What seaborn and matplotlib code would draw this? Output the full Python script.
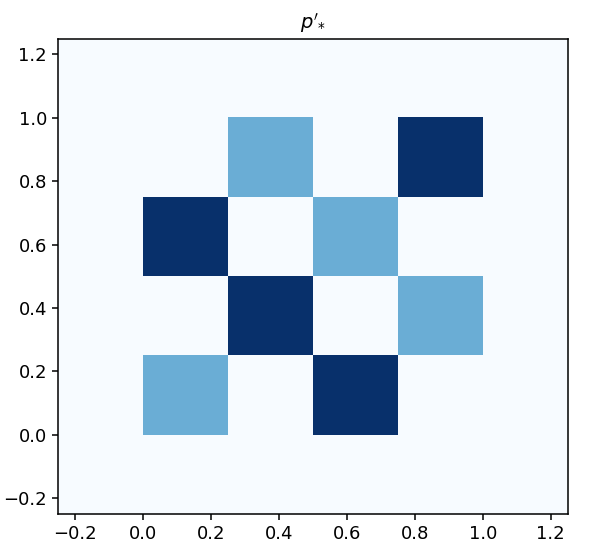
import matplotlib
matplotlib.use("Agg")

import numpy as np
import matplotlib.pyplot as plt
import seaborn as sns

# grid of cell values, bottom row first (origin="lower")
ROW_0 = [0.0, 0.0, 0.0, 0.0, 0.0, 0.0]
ROW_1 = [0.0, 0.5, 0.0, 1.0, 0.0, 0.0]
ROW_2 = [0.0, 0.0, 1.0, 0.0, 0.5, 0.0]
ROW_3 = [0.0, 1.0, 0.0, 0.5, 0.0, 0.0]
ROW_4 = [0.0, 0.0, 0.5, 0.0, 1.0, 0.0]
ROW_5 = [0.0, 0.0, 0.0, 0.0, 0.0, 0.0]

EXTENT = [-0.25, 1.25, -0.25, 1.25]
TICKS = [-0.2, 0.0, 0.2, 0.4, 0.6, 0.8, 1.0, 1.2]
TITLE = r"$p'_{*}$"


def main() -> None:
    sns.set_theme(style="ticks", rc={
        "axes.edgecolor": "black",
        "axes.linewidth": 1.1,
        "text.color": "black",
        "axes.labelcolor": "black",
        "xtick.color": "black",
        "ytick.color": "black",
        "xtick.major.width": 1.1,
        "ytick.major.width": 1.1,
        "xtick.major.size": 4.5,
        "ytick.major.size": 4.5,
    })
    plt.rcParams["font.family"] = ["DejaVu Sans"]

    grid = np.array([ROW_0, ROW_1, ROW_2, ROW_3, ROW_4, ROW_5])
    cmap = sns.color_palette("Blues", as_cmap=True)

    fig = plt.figure(figsize=(5.92, 5.47), dpi=100)
    ax = fig.add_axes([0.098, 0.0603, 0.861, 0.8693])
    ax.imshow(grid, cmap=cmap, vmin=0, vmax=1, origin="lower",
              extent=EXTENT, aspect="auto", interpolation="nearest")
    ax.set_xlim(EXTENT[0], EXTENT[1])
    ax.set_ylim(EXTENT[2], EXTENT[3])
    ax.set_xticks(TICKS)
    ax.set_yticks(TICKS)
    ax.tick_params(labelsize=13)
    ax.set_title(TITLE, fontsize=14, pad=7, color="black")
    fig.savefig("out.png", dpi=100)
    plt.close("all")


if __name__ == "__main__":
    main()
